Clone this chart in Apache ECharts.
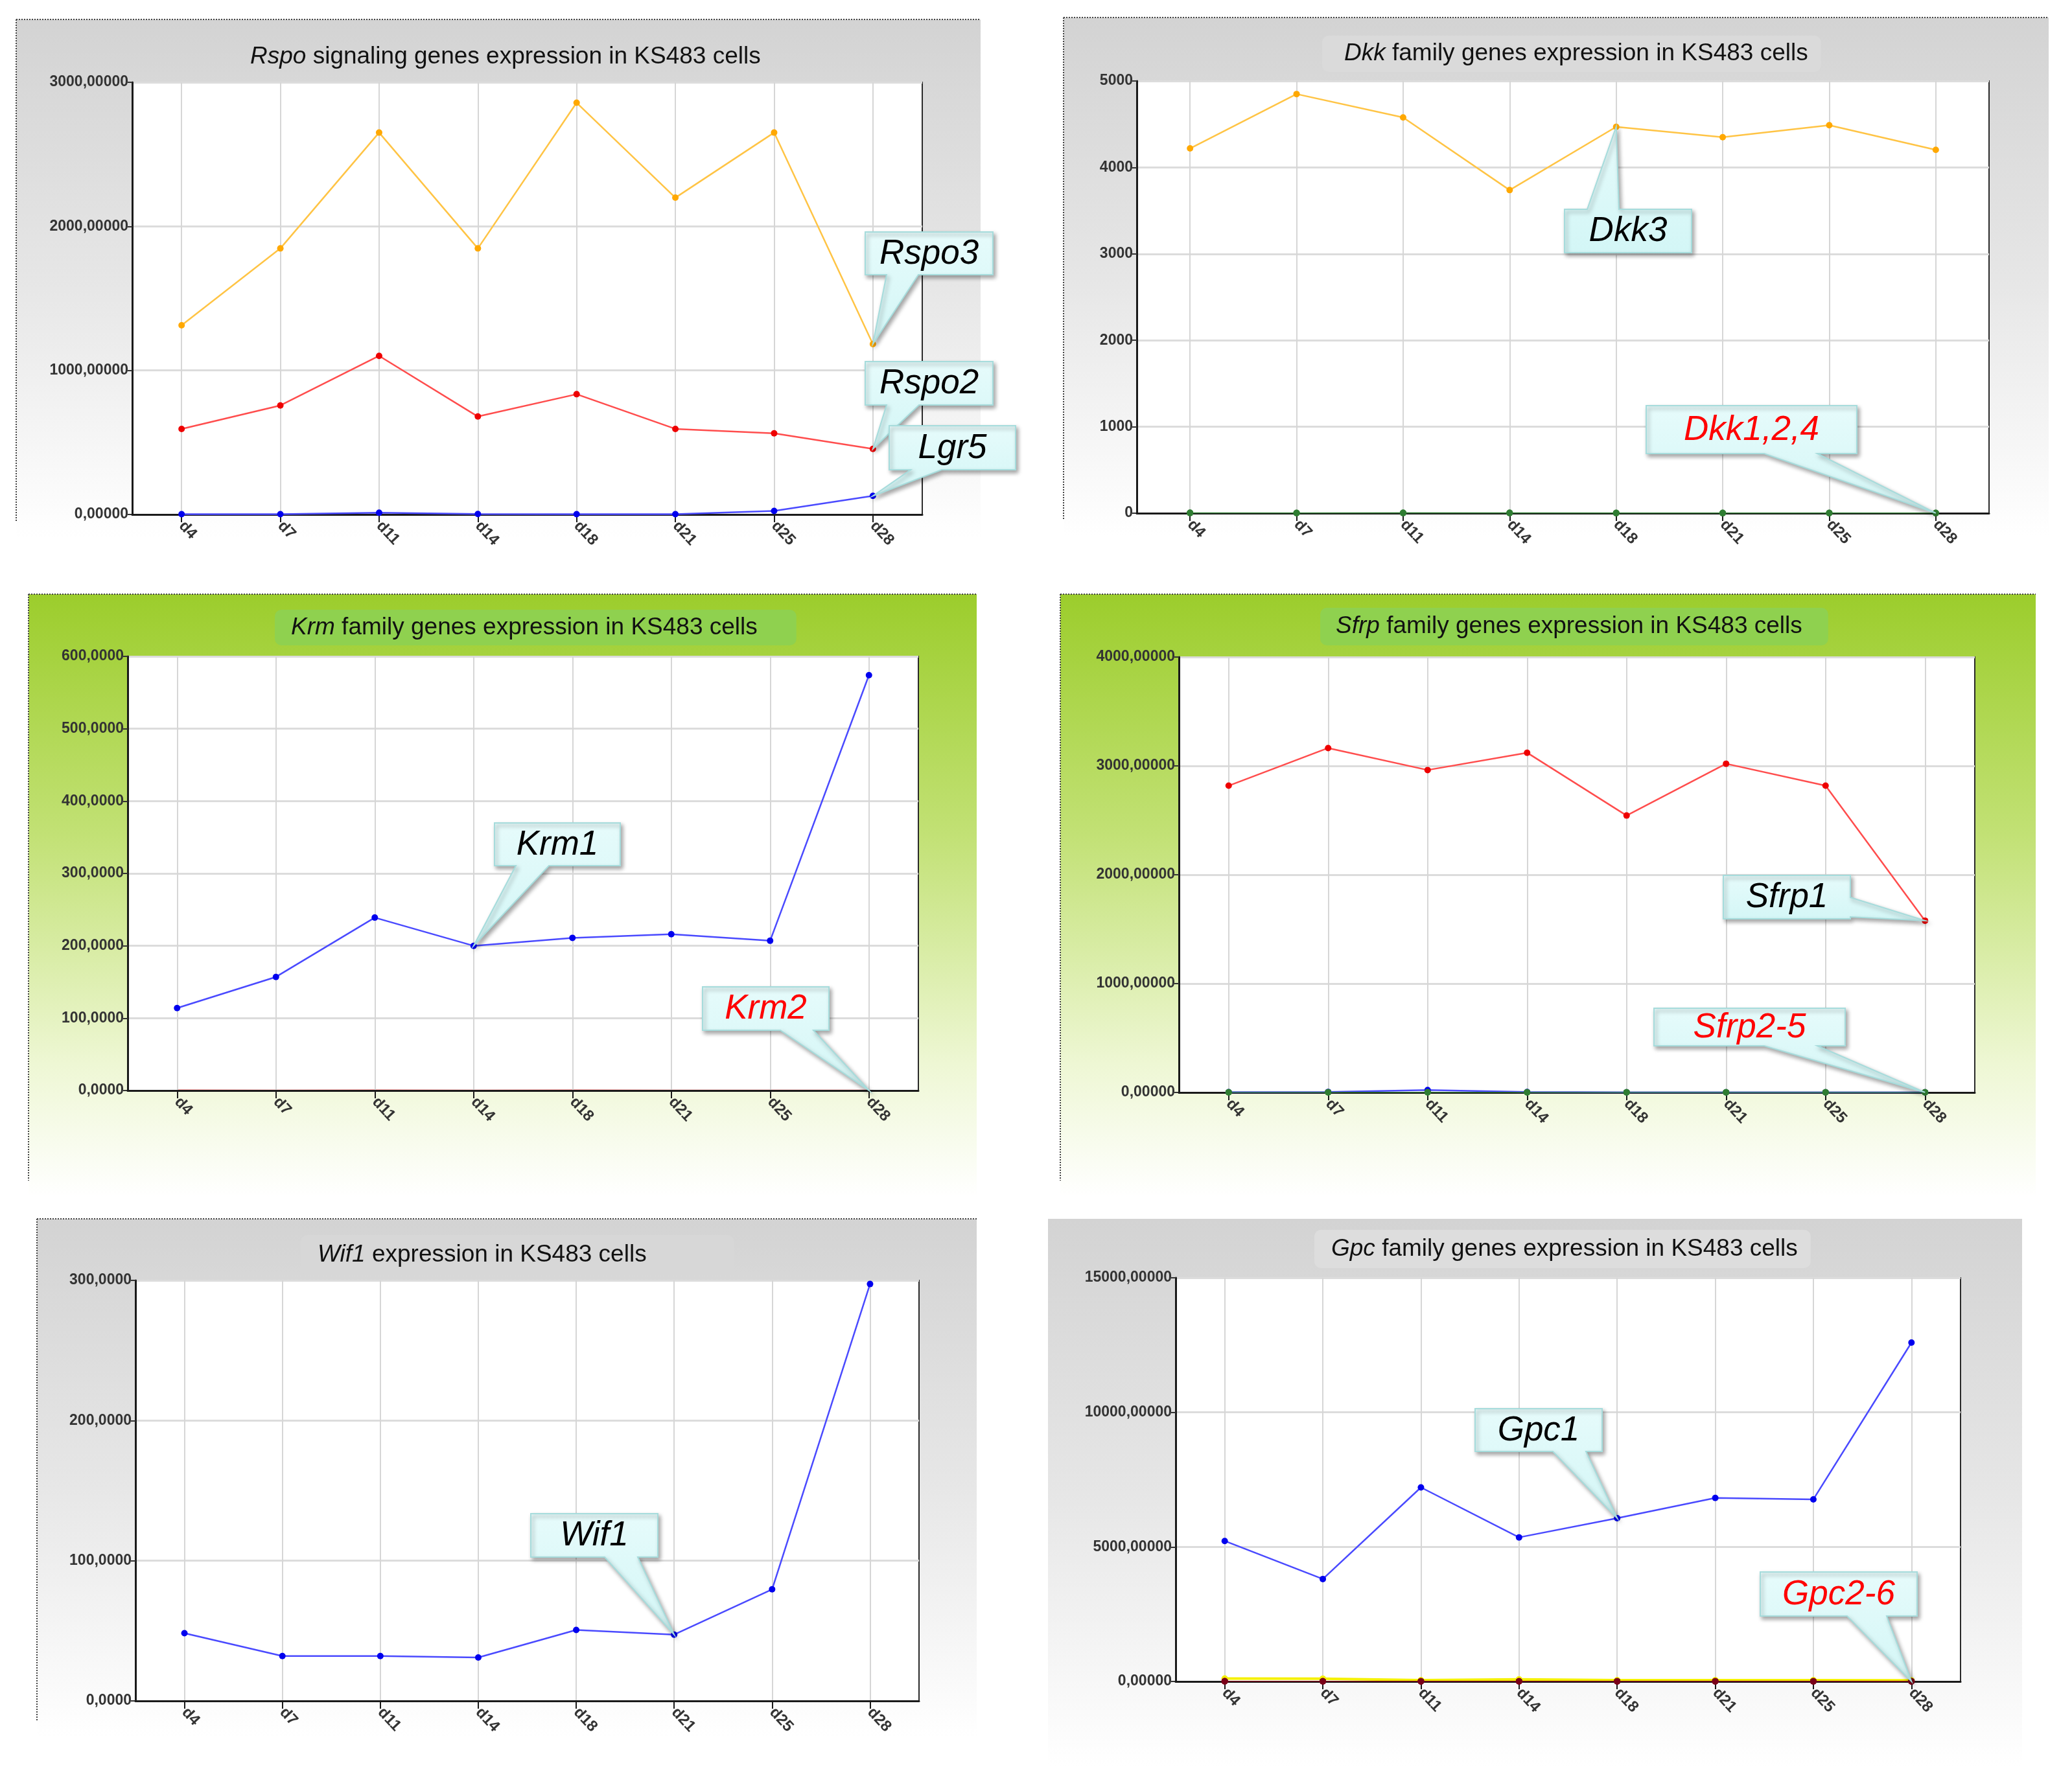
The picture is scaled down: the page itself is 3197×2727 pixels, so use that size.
<!DOCTYPE html>
<html>
<head>
<meta charset="utf-8">
<style>
html,body{margin:0;padding:0;background:#ffffff;}
#chart{width:3197px;height:2727px;}
</style>
<script src="https://cdn.jsdelivr.net/npm/echarts@6/dist/echarts.min.js"></script>
</head>
<body>
<div id="chart"></div>
<script>
// ---------- data ----------
const days = ['d4','d7','d11','d14','d18','d21','d25','d28'];

const rspo3 = [1313, 1847, 2651, 1847, 2858, 2199, 2651, 1183];
const rspo2 = [594, 757, 1101, 680, 835, 594, 563, 455];
const lgr5  = [2, 2, 12, 3, 2, 2, 25, 129];

const dkk3 = [4220, 4849, 4578, 3738, 4470, 4350, 4488, 4203];
const dkk1 = [3, 2, 2, 2, 1, 1, 1, 1];
const dkk2 = [1, 1, 1, 1, 1, 1, 1, 1];
const dkk4 = [5, 4, 6, 5, 4, 3, 4, 3];

const krm1 = [114, 157, 239, 200, 211, 216, 207, 574];
const krm2 = [0.4, 0.3, 0.5, 0.3, 0.4, 0.3, 0.3, 0.2];

const sfrp1 = [2818, 3164, 2962, 3121, 2544, 3020, 2818, 1578];
const sfrp2 = [3, 5, 22, 4, 2, 2, 2, 1];
const sfrp3 = [2, 2, 3, 2, 2, 2, 2, 1];
const sfrp4 = [1, 1, 1, 1, 1, 1, 1, 1];
const sfrp5 = [2, 1, 2, 1, 1, 1, 1, 1];

const wif1 = [48.3, 32.0, 32.0, 31.0, 50.6, 47.3, 79.6, 297.4];

const gpc1 = [5220, 3807, 7211, 5354, 6067, 6821, 6767, 12592];
const gpc2 = [10, 8, 6, 8, 6, 5, 5, 4];
const gpc3 = [110, 100, 50, 80, 50, 50, 50, 40];
const gpc4 = [6, 5, 4, 5, 4, 4, 4, 3];
const gpc5 = [4, 4, 3, 4, 3, 3, 3, 2];
const gpc6 = [8, 7, 6, 7, 6, 6, 6, 5];

// axis tick settings per panel
const yMax   = [3000, 5000, 600, 4000, 300, 15000];
const yStep  = [1000, 1000, 100, 1000, 100, 5000];
const yDec   = [5, 0, 4, 5, 4, 5];

const titleTexts = [
  '{i|Rspo} signaling genes expression in KS483 cells',
  '{i|Dkk} family genes expression in KS483 cells',
  '{i|Krm} family genes expression in KS483 cells',
  '{i|Sfrp} family genes expression in KS483 cells',
  '{i|Wif1} expression in KS483 cells',
  '{i|Gpc} family genes expression in KS483 cells'
];

// ---------- layout / style ----------
const FONT = '"Liberation Sans", Arial, sans-serif';
const grids = [
  {left:204,  top:127,  width:1219, height:667},
  {left:1754, top:125,  width:1315, height:667},
  {left:197,  top:1013, width:1220, height:670},
  {left:1819, top:1014, width:1228, height:672},
  {left:209,  top:1976, width:1209, height:649},
  {left:1814, top:1972, width:1211, height:623}
];
const titleLayout = [
  {left:386,  top:68,   padding:0, bg:'transparent'},
  {left:2040, top:55,   padding:[8,20,8,34], bg:'#dadada'},
  {left:424,  top:941,  padding:[8,60,7,25], bg:'#8fd14f'},
  {left:2037, top:938,  padding:[9,40,9,24], bg:'#8fd14f'},
  {left:464,  top:1906, padding:[11,135,11,26], bg:'#d7d7d7'},
  {left:2028, top:1898, padding:[10,20,9,26], bg:'#dddddd'}
];
const panelBg = [
  {rect:[25,30,1488,800],    kind:'gray',  dotted:true},
  {rect:[1641,27,1520,800],  kind:'gray',  dotted:true},
  {rect:[44,917,1463,930],   kind:'green', dotted:true},
  {rect:[1636,917,1505,930], kind:'green', dotted:true},
  {rect:[57,1881,1450,800],  kind:'gray',  dotted:true},
  {rect:[1617,1881,1503,846],kind:'gray',  dotted:false}
];

const C = {
  orangeLine:'#ffc445', orangeDot:'#ffa800',
  redLine:'#ff4d4d', redDot:'#ee0000',
  blueLine:'#4a4aff', blueDot:'#0000ee',
  green:'#2f7d32', yellow:'#f5f000', darkRed:'#7a0018'
};

function mk(name, data, gi, lineColor, dotColor, lw, z, noSym) {
  return {
    name: name, type: 'line', data: data,
    xAxisIndex: gi, yAxisIndex: gi,
    symbol: noSym ? 'none' : 'circle', symbolSize: 10, showSymbol: !noSym,
    lineStyle: {color: lineColor, width: lw || 2.5},
    itemStyle: {color: dotColor},
    z: z == null ? 3 : z, animation: false, silent: true
  };
}

const series = [
  mk('Lgr5', lgr5, 0, C.blueLine, C.blueDot),
  mk('Rspo2', rspo2, 0, C.redLine, C.redDot),
  mk('Rspo3', rspo3, 0, C.orangeLine, C.orangeDot),

  mk('Dkk1', dkk1, 1, C.green, C.green, 1),
  mk('Dkk2', dkk2, 1, C.green, C.green, 1),
  mk('Dkk4', dkk4, 1, C.green, C.green, 1),
  mk('Dkk3', dkk3, 1, C.orangeLine, C.orangeDot),

  mk('Krm2', krm2, 2, C.redLine, C.redDot, 2, 1, true),
  mk('Krm1', krm1, 2, C.blueLine, C.blueDot),

  mk('Sfrp2', sfrp2, 3, C.blueLine, C.blueDot),
  mk('Sfrp3', sfrp3, 3, C.green, C.green, 1),
  mk('Sfrp4', sfrp4, 3, C.green, C.green, 1),
  mk('Sfrp5', sfrp5, 3, C.green, C.green, 1),
  mk('Sfrp1', sfrp1, 3, C.redLine, C.redDot),

  mk('Wif1', wif1, 4, C.blueLine, C.blueDot),

  mk('Gpc3', gpc3, 5, C.yellow, C.yellow, 4),
  mk('Gpc2', gpc2, 5, C.darkRed, C.darkRed, 1),
  mk('Gpc4', gpc4, 5, C.darkRed, C.darkRed, 1),
  mk('Gpc5', gpc5, 5, C.darkRed, C.darkRed, 1),
  mk('Gpc6', gpc6, 5, C.darkRed, C.darkRed, 1),
  mk('Gpc1', gpc1, 5, C.blueLine, C.blueDot)
];

const gridOpts = grids.map(g => Object.assign({
  show: true, backgroundColor: '#ffffff', borderColor: '#2a2a2a', borderWidth: 2,
  containLabel: false
}, g));

const xAxes = grids.map((g, i) => ({
  type: 'category', gridIndex: i, data: days, boundaryGap: true, z: 2,
  axisLine: {lineStyle: {color: '#1a1a1a', width: 3}},
  axisTick: {show: true, alignWithLabel: true, length: 12, lineStyle: {color: '#1a1a1a', width: 2}},
  axisLabel: {rotate: -47, margin: 14, fontSize: 24, fontWeight: 'bold', color: '#333', fontFamily: FONT},
  splitLine: {show: true, alignWithLabel: true, lineStyle: {color: '#d6d6d6', width: 2}}
}));

const yAxes = grids.map((g, i) => ({
  type: 'value', gridIndex: i, min: 0, max: yMax[i], interval: yStep[i],
  axisLine: {show: true, lineStyle: {color: '#1a1a1a', width: 3}},
  axisTick: {show: true, length: 7, lineStyle: {color: '#333', width: 2}},
  axisLabel: {
    margin: 6, fontSize: 23, fontWeight: 'bold', color: '#333', fontFamily: FONT,
    formatter: v => yDec[i] > 0 ? v.toFixed(yDec[i]).replace('.', ',') : String(v)
  },
  splitLine: {show: true, lineStyle: {color: '#dcdcdc', width: 3}}
}));

const titles = titleTexts.map((t, i) => ({
  text: t,
  left: titleLayout[i].left, top: titleLayout[i].top,
  padding: titleLayout[i].padding,
  backgroundColor: titleLayout[i].bg,
  borderRadius: 10,
  textStyle: {
    fontSize: 37, fontWeight: 'normal', color: '#111', fontFamily: FONT, lineHeight: 40,
    rich: {i: {fontStyle: 'italic', fontSize: 37, color: '#111', fontFamily: FONT, lineHeight: 40}}
  }
}));

function bgFill(kind) {
  if (kind === 'green') {
    return {type: 'linear', x: 0, y: 0, x2: 0, y2: 1, colorStops: [
      {offset: 0, color: '#9ccd2c'}, {offset: 0.4, color: '#c2e175'},
      {offset: 0.78, color: '#eef7d4'}, {offset: 1, color: '#ffffff'}]};
  }
  return {type: 'linear', x: 0, y: 0, x2: 0, y2: 1, colorStops: [
    {offset: 0, color: '#d3d3d3'}, {offset: 0.5, color: '#e6e6e6'},
    {offset: 1, color: '#ffffff'}]};
}

const bgElements = [];
panelBg.forEach((p, i) => {
  const [x, y, w, h] = p.rect;
  bgElements.push({type: 'rect', id: 'bg' + i, z: -100, silent: true,
    shape: {x: x, y: y, width: w, height: h}, style: {fill: bgFill(p.kind)}});
  if (p.dotted) {
    bgElements.push({type: 'line', id: 'dt' + i, z: -99, silent: true,
      shape: {x1: x, y1: y, x2: x + w, y2: y}, style: {stroke: '#444', lineWidth: 2, lineDash: [2, 2]}});
    bgElements.push({type: 'line', id: 'dl' + i, z: -99, silent: true,
      shape: {x1: x, y1: y, x2: x, y2: y + h - 25}, style: {stroke: '#444', lineWidth: 2, lineDash: [2, 2]}});
  }
});

const chart = echarts.init(document.getElementById('chart'), null, {renderer: 'canvas', width: 3197, height: 2727});
chart.setOption({
  animation: false,
  backgroundColor: '#ffffff',
  title: titles,
  grid: gridOpts,
  xAxis: xAxes,
  yAxis: yAxes,
  series: series,
  graphic: {elements: bgElements}
});

// ---------- callouts (annotation boxes pointing at data points) ----------
const callouts = [
  {grid:0, text:'Rspo3', color:'#000', box:[1335,358,197,66], edge:'bottom', base:[1368,1417], tgt:[rspo3,7]},
  {grid:0, text:'Rspo2', color:'#000', box:[1335,558,197,67], edge:'bottom', base:[1368,1418], tgt:[rspo2,7]},
  {grid:0, text:'Lgr5',  color:'#000', box:[1372,657,195,68], edge:'bottom', base:[1405,1453], tgt:[lgr5,7]},
  {grid:1, text:'Dkk3',  color:'#000', box:[2414,323,196,67], edge:'top',    base:[2449,2498], tgt:[dkk3,4]},
  {grid:1, text:'Dkk1,2,4', color:'#ff0000', box:[2540,626,325,74], edge:'bottom', base:[2722,2804], tgt:[dkk2,7]},
  {grid:2, text:'Krm1',  color:'#000', box:[763,1270,194,66], edge:'bottom', base:[796,847], tgt:[krm1,3]},
  {grid:2, text:'Krm2',  color:'#ff0000', box:[1084,1523,195,67], edge:'bottom', base:[1204,1255], tgt:[krm2,7]},
  {grid:3, text:'Sfrp1', color:'#000', box:[2659,1351,196,67], edge:'right', base:[1385,1415], tgt:[sfrp1,7]},
  {grid:3, text:'Sfrp2-5', color:'#ff0000', box:[2552,1556,295,58], edge:'bottom', base:[2722,2804], tgt:[sfrp4,7]},
  {grid:4, text:'Wif1',  color:'#000', box:[819,2336,196,67], edge:'bottom', base:[933,984], tgt:[wif1,5]},
  {grid:5, text:'Gpc1',  color:'#000', box:[2276,2174,196,66], edge:'bottom', base:[2396,2447], tgt:[gpc1,4]},
  {grid:5, text:'Gpc2-6', color:'#ff0000', box:[2716,2426,242,68], edge:'bottom', base:[2850,2911], tgt:[gpc5,7]}
];

const calloutEls = [];
callouts.forEach((c, k) => {
  const arr = c.tgt[0], idx = c.tgt[1];
  const tip = chart.convertToPixel({gridIndex: c.grid}, [idx, arr[idx]]);
  const [x, y, w, h] = c.box;
  const x1 = x + w, y1 = y + h, a = c.base[0], b = c.base[1];
  let pts;
  if (c.edge === 'bottom') pts = [[x,y],[x1,y],[x1,y1],[b,y1],tip,[a,y1],[x,y1]];
  else if (c.edge === 'top') pts = [[x,y],[a,y],tip,[b,y],[x1,y],[x1,y1],[x,y1]];
  else pts = [[x,y],[x1,y],[x1,a],tip,[x1,b],[x1,y1],[x,y1]];
  calloutEls.push({
    type: 'polygon', id: 'co' + k, z: 100, silent: true,
    shape: {points: pts},
    style: {
      fill: {type:'linear', x:0, y:0, x2:0, y2:1, colorStops:[{offset:0,color:'#e6fbfb'},{offset:1,color:'#d3f6f6'}]},
      stroke: '#a6dcdc', lineWidth: 2,
      shadowBlur: 6, shadowColor: 'rgba(0,0,0,0.35)', shadowOffsetX: 3, shadowOffsetY: 4
    }
  });
  calloutEls.push({
    type: 'text', id: 'ct' + k, z: 101, silent: true,
    x: x + w / 2, y: y + h / 2 + 1,
    style: {
      text: c.text, fill: c.color,
      fontSize: 53, fontStyle: 'italic', fontFamily: FONT,
      align: 'center', verticalAlign: 'middle',
      textAlign: 'center', textVerticalAlign: 'middle'
    }
  });
});

chart.setOption({graphic: {elements: calloutEls}});
</script>
</body>
</html>
